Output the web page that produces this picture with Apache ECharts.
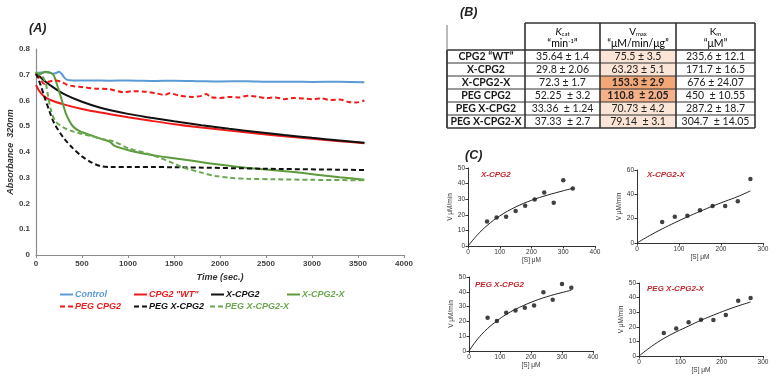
<!DOCTYPE html>
<html><head><meta charset="utf-8">
<script src="https://cdn.jsdelivr.net/npm/echarts@6/dist/echarts.min.js"></script>
<style>html,body{margin:0;padding:0;background:#fff}#c{width:777px;height:378px}</style>
</head><body><div id="c"></div>
<script>
// ---------- Panel A: absorbance vs time ----------
const timeTicks = [0, 500, 1000, 1500, 2000, 2500, 3000, 3500, 4000];
const absTicks = [0, 0.1, 0.2, 0.3, 0.4, 0.5, 0.6, 0.7, 0.8];
const seriesNames = ['Control', 'CPG2 "WT"', 'X-CPG2', 'X-CPG2-X', 'PEG CPG2', 'PEG X-CPG2', 'PEG X-CPG2-X'];
const controlData = [[0,0.703],[30,0.708],[100,0.71],[150,0.709],[190,0.704],[220,0.707],[250,0.712],[280,0.703],[310,0.688],[340,0.68],[400,0.678],[600,0.678],[800,0.677],[1000,0.678],[1300,0.676],[1500,0.677],[1800,0.675],[2000,0.674],[2300,0.675],[2500,0.673],[2800,0.673],[3000,0.672],[3300,0.673],[3570,0.671]];
const wtData = [[0,0.66],[30,0.64],[80,0.618],[150,0.603],[300,0.585],[500,0.567],[700,0.553],[1000,0.535],[1250,0.521],[1500,0.508],[1800,0.495],[2100,0.483],[2400,0.472],[2700,0.461],[3000,0.451],[3300,0.442],[3570,0.434]];
const xcpg2Data = [[0,0.705],[50,0.69],[100,0.674],[200,0.648],[300,0.626],[500,0.595],[700,0.572],[1000,0.548],[1250,0.533],[1500,0.519],[1800,0.504],[2100,0.49],[2400,0.478],[2700,0.466],[3000,0.455],[3300,0.445],[3570,0.436]];
const xcpg2xData = [[0,0.712],[30,0.7],[60,0.705],[100,0.712],[150,0.708],[190,0.7],[230,0.66],[280,0.602],[330,0.545],[400,0.5],[480,0.48],[590,0.466],[700,0.452],[800,0.44],[850,0.425],[900,0.418],[1025,0.405],[1200,0.392],[1350,0.383],[1500,0.376],[1700,0.366],[1965,0.352],[2200,0.342],[2500,0.332],[2800,0.322],[3050,0.312],[3300,0.302],[3570,0.292]];
const pegData = [[0,0.7],[40,0.685],[90,0.665],[130,0.672],[200,0.678],[280,0.672],[330,0.662],[400,0.656],[500,0.652],[650,0.646],[800,0.644],[950,0.632],[1050,0.636],[1200,0.634],[1300,0.628],[1400,0.622],[1450,0.628],[1550,0.62],[1700,0.614],[1800,0.618],[1850,0.625],[1900,0.613],[2000,0.61],[2100,0.614],[2200,0.612],[2300,0.618],[2400,0.615],[2500,0.61],[2600,0.612],[2700,0.605],[2800,0.61],[2900,0.608],[3000,0.605],[3100,0.608],[3200,0.602],[3300,0.604],[3400,0.594],[3480,0.592],[3570,0.6]];
const pegXcpg2Data = [[0,0.705],[50,0.66],[100,0.605],[150,0.555],[200,0.51],[300,0.455],[400,0.415],[500,0.383],[600,0.36],[700,0.345],[800,0.342],[1500,0.341],[2500,0.335],[3570,0.33]];
const pegXcpg2xData = [[0,0.71],[50,0.7],[100,0.675],[130,0.62],[160,0.565],[210,0.52],[300,0.495],[400,0.48],[500,0.47],[600,0.462],[700,0.452],[850,0.44],[1000,0.415],[1200,0.395],[1350,0.377],[1500,0.355],[1600,0.34],[1800,0.32],[1950,0.307],[2100,0.3],[2300,0.296],[2600,0.294],[3000,0.292],[3570,0.29]];

// ---------- Panel B: kinetic table ----------
const tableRows = ['CPG2 \u201cWT\u201d', 'X-CPG2', 'X-CPG2-X', 'PEG CPG2', 'PEG X-CPG2', 'PEG X-CPG2-X'];
const kcatCol = ['35.64 \u00b1 1.4', '29.8 \u00b1 2.06', '72.3 \u00b1 1.7', '52.25  \u00b1 3.2', '33.36  \u00b1 1.24', '37.33  \u00b1 2.7'];
const vmaxCol = ['75.5 \u00b1 3.5', '63.23 \u00b1 5.1', '153.3 \u00b1 2.9', '110.8  \u00b1 2.05', '70.73 \u00b1 4.2', '79.14  \u00b1 3.1'];
const kmCol = ['235.6 \u00b1 12.1', '171.7 \u00b1 16.5', '676 \u00b1 24.07', '450  \u00b1 10.55', '287.2 \u00b1 18.7', '304.7  \u00b1 14.05'];

// ---------- Panel C: Michaelis-Menten plots ----------
const plotTitles = ['X-CPG2', 'X-CPG2-X', 'PEG X-CPG2', 'PEG X-CPG2-X'];
const s1 = [60, 90, 120, 150, 180, 210, 240, 270, 300, 330];
const v1 = [15.7, 18.2, 18.7, 22.5, 25.8, 29.8, 34.3, 27.7, 42.2, 36.8];
const fitS1 = [0, 30, 60, 100, 150, 200, 250, 300, 330];
const fitV1 = [0, 7.2, 13.1, 19.3, 25, 29.3, 32.6, 35.4, 37];
const s2 = [60, 90, 120, 150, 180, 210, 240, 270];
const v2 = [17.3, 21.5, 22.3, 27, 30.5, 30.5, 34.4, 52.6];
const fitS2 = [0, 30, 60, 90, 120, 150, 180, 210, 240, 270];
const fitV2 = [0, 6.1, 11.6, 16.7, 21.5, 26, 30.3, 34.3, 38.2, 42.8];
const s3 = [60, 90, 120, 150, 180, 210, 240, 270, 300, 330];
const v3 = [22.5, 20.3, 25.8, 27.4, 29.2, 30.8, 39.7, 34.6, 45.3, 42.7];
const fitS3 = [0, 20, 40, 60, 90, 120, 150, 200, 250, 300, 330];
const fitV3 = [0, 6, 11, 15.2, 20.4, 24.7, 28.2, 32.9, 36.6, 39.5, 41];
const s4 = [60, 90, 120, 150, 180, 210, 240, 270];
const v4 = [15.8, 18.8, 23.2, 24.8, 24.7, 28, 37.8, 39.7];
const fitS4 = [0, 30, 60, 90, 120, 150, 180, 210, 240, 270];
const fitV4 = [0, 6.5, 12, 16.5, 20.5, 24.5, 28, 31.3, 34.3, 37];

const chart = echarts.init(document.getElementById('c'), null, {renderer: 'canvas'});

const RED = '#f01a1a', BLUE = '#5b9bd5', BLACK = '#111', GREEN = '#5c9a3c', GREEN2 = '#6aa84f';
const seriesDefs = [
  {name: seriesNames[0], data: controlData, color: BLUE, dash: 'solid', tc: BLUE},
  {name: seriesNames[1], data: wtData, color: RED, dash: 'solid', tc: RED},
  {name: seriesNames[2], data: xcpg2Data, color: BLACK, dash: 'solid', tc: BLACK},
  {name: seriesNames[3], data: xcpg2xData, color: GREEN, dash: 'solid', tc: GREEN2},
  {name: seriesNames[4], data: pegData, color: RED, dash: [5, 3], tc: RED},
  {name: seriesNames[5], data: pegXcpg2Data, color: BLACK, dash: [5, 3], tc: BLACK},
  {name: seriesNames[6], data: pegXcpg2xData, color: GREEN2, dash: [5, 3], tc: GREEN2}
];
const legendPos = [[59, 290], [133, 290], [210, 290], [286, 290], [59, 302], [133, 302], [209, 302]];

const FONT = '"Liberation Sans", Arial, sans-serif';
const grids = [
  {left: 36, top: 49, width: 368, height: 206},
  {left: 468, top: 168, width: 127, height: 78},
  {left: 637, top: 170, width: 126, height: 73},
  {left: 469, top: 277, width: 124, height: 74},
  {left: 639, top: 283, width: 124, height: 73}
];

const xAxes = [{
  gridIndex: 0, type: 'value', min: timeTicks[0], max: timeTicks[timeTicks.length - 1], interval: 500,
  name: 'Time (sec.)', nameLocation: 'middle', nameGap: 16,
  nameTextStyle: {fontFamily: FONT, fontSize: 9, fontWeight: 'bold', fontStyle: 'italic', color: '#333'},
  axisLine: {lineStyle: {color: '#8c8c8c', width: 1.2}},
  axisTick: {show: true, length: 3, lineStyle: {color: '#8c8c8c'}},
  axisLabel: {fontFamily: FONT, fontSize: 8, fontWeight: 'bold', color: '#404040', margin: 5, formatter: v => String(v)},
  splitLine: {show: false}
}];
const yAxes = [{
  gridIndex: 0, type: 'value', min: absTicks[0], max: absTicks[absTicks.length - 1], interval: 0.1,
  name: 'Absorbance  320nm', nameLocation: 'middle', nameGap: 19, nameRotate: 90,
  nameTextStyle: {fontFamily: FONT, fontSize: 9, fontWeight: 'bold', fontStyle: 'italic', color: '#333'},
  axisLine: {show: true, lineStyle: {color: '#8c8c8c', width: 1.2}},
  axisTick: {show: false},
  axisLabel: {fontFamily: FONT, fontSize: 8, fontWeight: 'bold', color: '#404040', margin: 6},
  splitLine: {show: false}
}];
const smallCfg = [
  {xmax: 400, ymax: 50, yint: 10},
  {xmax: 300, ymax: 60, yint: 20},
  {xmax: 400, ymax: 50, yint: 10},
  {xmax: 300, ymax: 50, yint: 10}
];
smallCfg.forEach((c, i) => {
  const gi = i + 1;
  const axStyle = {
    axisLine: {show: true, lineStyle: {color: '#333', width: 1}},
    axisTick: {show: true, length: 2.5, lineStyle: {color: '#333'}},
    axisLabel: {fontFamily: FONT, fontSize: 6.5, color: '#333', margin: 3},
    splitLine: {show: false}
  };
  xAxes.push(Object.assign({
    gridIndex: gi, type: 'value', min: 0, max: c.xmax, interval: 100,
    name: '[S] \u03bcM', nameLocation: 'middle', nameGap: 9,
    nameTextStyle: {fontFamily: FONT, fontSize: 6.5, color: '#333'}
  }, axStyle));
  yAxes.push(Object.assign({
    gridIndex: gi, type: 'value', min: 0, max: c.ymax, interval: c.yint,
    name: 'V \u03bcM/min', nameLocation: 'middle', nameGap: 11, nameRotate: 90,
    nameTextStyle: {fontFamily: FONT, fontSize: 6.5, color: '#333'}
  }, axStyle));
});

const series = seriesDefs.map(d => ({
  name: d.name, type: 'line', xAxisIndex: 0, yAxisIndex: 0, data: d.data,
  showSymbol: false, symbol: 'none', smooth: 0.3,
  lineStyle: {color: d.color, width: 2, type: d.dash},
  itemStyle: {color: d.color}, z: 3
}));
const sData = [[s1, v1, fitS1, fitV1], [s2, v2, fitS2, fitV2], [s3, v3, fitS3, fitV3], [s4, v4, fitS4, fitV4]];
sData.forEach((d, i) => {
  series.push({
    type: 'line', xAxisIndex: i + 1, yAxisIndex: i + 1, data: d[2].map((s, k) => [s, d[3][k]]),
    showSymbol: false, symbol: 'none', smooth: 0.4, lineStyle: {color: '#222', width: 1}, silent: true
  });
  series.push({
    type: 'scatter', xAxisIndex: i + 1, yAxisIndex: i + 1, data: d[0].map((s, k) => [s, d[1][k]]),
    symbol: 'circle', symbolSize: 4.5, itemStyle: {color: '#111'}, silent: true
  });
});

const legends = seriesDefs.map((d, i) => ({
  data: [{name: d.name, textStyle: {color: d.tc}}],
  left: legendPos[i][0], top: legendPos[i][1], padding: 0, itemGap: 0,
  itemWidth: 13, itemHeight: 9, selectedMode: false,
  itemStyle: {color: 'rgba(0,0,0,0)', borderWidth: 0, opacity: 0},
  textStyle: {fontFamily: FONT, fontSize: 9, fontWeight: 'bold', fontStyle: 'italic', padding: [0, 0, 0, -3]}
}));

// ---------- Table graphics ----------
const colX = [447, 525, 600, 676, 755];
const headerTop = 23, headerBottom = 50, rowH = 13;
const g = [];
const TFONT = 'Lato, "Open Sans", sans-serif';
const vmaxFill = ['#fbe5d6', '#fbe5d6', '#f2a776', '#f5b28a', '#fbe5d6', '#fbe5d6'];
tableRows.forEach((r, i) => {
  g.push({type: 'rect', shape: {x: colX[2], y: headerBottom + i * rowH, width: colX[3] - colX[2], height: rowH},
    style: {fill: vmaxFill[i]}, z: 1});
});
for (let i = 0; i <= tableRows.length; i++) {
  const y = headerBottom + i * rowH;
  g.push({type: 'line', shape: {x1: colX[0], y1: y, x2: colX[4], y2: y},
    style: {stroke: '#333', lineWidth: (i === 0 || i === tableRows.length) ? 1.6 : 1}, z: 3});
}
g.push({type: 'line', shape: {x1: colX[1], y1: headerTop, x2: colX[4], y2: headerTop}, style: {stroke: '#333', lineWidth: 1.6}, z: 3});
colX.forEach((x, i) => {
  const top = i === 0 ? headerTop + 2 : headerTop;
  g.push({type: 'line', shape: {x1: x, y1: top, x2: x, y2: headerBottom + tableRows.length * rowH},
    style: {stroke: i === 0 ? '#777' : '#333', lineWidth: i === 0 ? 1 : 1.6}, z: 3});
});
g.push({type: 'line', shape: {x1: colX[0], y1: headerBottom, x2: colX[0], y2: headerBottom + tableRows.length * rowH},
  style: {stroke: '#333', lineWidth: 1.6}, z: 3});
const headerRich = {
  i: {fontFamily: TFONT, fontSize: 10, fontStyle: 'italic', color: '#222'},
  r: {fontFamily: TFONT, fontSize: 10, color: '#222'},
  sb: {fontFamily: TFONT, fontSize: 6, color: '#222', verticalAlign: 'bottom', padding: [4, 0, 0, 0]},
  sp: {fontFamily: TFONT, fontSize: 6, color: '#222', padding: [0, 0, 4, 0]},
  n: {fontFamily: TFONT, fontSize: 10.5, color: '#222'}
};
const headers = ['{i|K}{sb|cat}\n{n|\u201cmin}{sp|-1}{n|\u201d}', '{r|V}{sb|max}\n{n|\u201c\u03bcM/min/\u03bcg\u201d}', '{r|K}{sb|m}\n{n|\u201c\u03bcM\u201d}'];
headers.forEach((h, j) => {
  g.push({type: 'text', x: (colX[j + 1] + colX[j + 2]) / 2, y: (headerTop + headerBottom) / 2 + 1,
    style: {text: h, rich: headerRich, align: 'center', verticalAlign: 'middle', lineHeight: 12}, z: 4});
});
const cols = [kcatCol, vmaxCol, kmCol];
tableRows.forEach((r, i) => {
  const cy = headerBottom + i * rowH + rowH / 2 + 0.5;
  g.push({type: 'text', x: (colX[0] + colX[1]) / 2, y: cy,
    style: {text: r, font: 'bold 10.5px ' + TFONT, fill: '#1a1a1a', align: 'center', verticalAlign: 'middle'}, z: 4});
  cols.forEach((col, j) => {
    const bold = j === 1 && (i === 2 || i === 3);
    g.push({type: 'text', x: (colX[j + 1] + colX[j + 2]) / 2, y: cy,
      style: {text: col[i], font: (bold ? 'bold ' : '') + '10.5px ' + TFONT, fill: '#222', align: 'center', verticalAlign: 'middle'}, z: 4});
  });
});
const panelLabels = [['(A)', 29, 22], ['(B)', 460, 6], ['(C)', 465, 149]];
panelLabels.forEach(p => {
  g.push({type: 'text', x: p[1], y: p[2], style: {text: p[0], font: 'italic bold 12.5px ' + FONT, fill: '#222'}, z: 4});
});
const titlePos = [[481, 171], [647, 171], [475, 281], [647, 285]];
plotTitles.forEach((t, i) => {
  g.push({type: 'text', x: titlePos[i][0], y: titlePos[i][1], style: {text: t, font: 'italic bold 8px ' + FONT, fill: '#c0262d'}, z: 4});
});

chart.setOption({
  animation: false,
  backgroundColor: '#fff',
  grid: grids,
  xAxis: xAxes,
  yAxis: yAxes,
  legend: legends,
  series: series,
  graphic: g
});
</script>
</body></html>
